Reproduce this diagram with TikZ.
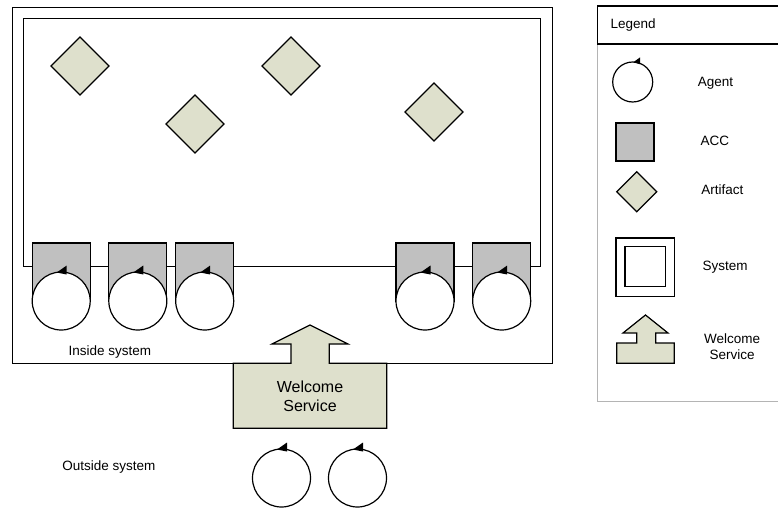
\documentclass[tikz,border=0pt]{standalone}
\usepackage{fontspec}
\setmainfont{Liberation Sans}
\usepackage{xcolor}
\usetikzlibrary{calc, positioning, shapes.geometric}
\definecolor{ArtifactFill}{HTML}{DEE0CC}
\definecolor{AccGray}{HTML}{C0C0C0}
\definecolor{LegendGray}{HTML}{B4B4B4}

\begin{document}
\begin{tikzpicture}[x=1pt, y=-1pt, line width=1.2pt,
        artifact/.style={draw, diamond, fill=ArtifactFill, inner sep=0pt,
                    outer sep=0pt, minimum width=58, minimum height=58},
        acc/.style={draw, rectangle, fill=AccGray, inner sep=0pt,
                    outer sep=0pt, minimum width=58, minimum height=58},
        agent/.style={draw, circle, fill=white, inner sep=0pt,
                    outer sep=0pt, minimum size=58},
        lbl/.style={font=\fontsize{13.5}{16}\selectfont, anchor=west, inner sep=0pt}]
        \useasboundingbox (0,0) rectangle (778,508);

        % System: outer and inner frame
        \node[draw, rectangle, inner sep=0pt, minimum width=540, minimum height=356,
              anchor=north west] (sysout) at (11.7,6.7) {};
        \node[draw, rectangle, inner sep=0pt, minimum width=517.3, minimum height=247.7,
              anchor=north west] (sysin) at (22.7,18.3) {};

        % Artifacts
        \node[artifact] (art1) at (80,66)   {};
        \node[artifact] (art2) at (195,124) {};
        \node[artifact] (art3) at (291,66)  {};
        \node[artifact] (art4) at (434,112) {};

        % ACCs with their agents
        \node[acc] (acc1) at (61.2,272)  {};
        \node[acc] (acc2) at (137.8,272) {};
        \node[acc] (acc3) at (204.7,272) {};
        \node[acc] (acc4) at (425,272)   {};
        \node[acc] (acc5) at (501.7,272) {};
        \node[agent] (ag1) at (61.2,301)  {};
        \node[agent] (ag2) at (137.8,301) {};
        \node[agent] (ag3) at (204.7,301) {};
        \node[agent] (ag4) at (425,301)   {};
        \node[agent] (ag5) at (501.7,301) {};

        % Agents waiting outside
        \node[agent] (out1) at (281.5,478) {};
        \node[agent] (out2) at (357.5,478) {};

        % Welcome service
        \draw[fill=ArtifactFill] (233.3,428.3) -- (233.3,363.3) -- (291,363.3) -- (291,344)
              -- (272,344) -- (310,325) -- (348,344) -- (329.3,344) -- (329.3,363.3)
              -- (386.7,363.3) -- (386.7,428.3) -- cycle;
        \node[font=\fontsize{16}{19}\selectfont, align=center] (welcome) at (310,396)
              {Welcome\\Service};

        \node[lbl] (inside)  at (68,352)    {Inside system};
        \node[lbl] (outside) at (61.7,466.7) {Outside system};

        % Legend
        \draw[LegendGray, line width=0.9pt] (597.3,44) -- (597.3,401.7) -- (780,401.7);
        \draw (780,6) -- (597.3,6) -- (597.3,44) -- (780,44);
        \node[lbl] (legend) at (610,25) {Legend};

        \node[agent, minimum size=40] (lagent) at (632.7,82) {};
        \node[acc, minimum width=38, minimum height=38] (lacc) at (635,142) {};
        \node[artifact, minimum width=40, minimum height=40] (lart) at (636.7,191.7) {};
        \node[draw, rectangle, inner sep=0pt, minimum width=58.3, minimum height=58.7]
              (lsysout) at (645.2,267.3) {};
        \node[draw, rectangle, inner sep=0pt, minimum width=40.7, minimum height=40]
              (lsysin) at (645.3,266.7) {};
        \draw[fill=ArtifactFill] (616.7,363.3) -- (616.7,343) -- (636.7,343) -- (636.7,333)
              -- (623,333) -- (645.5,315) -- (668,333) -- (655.7,333) -- (655.7,343)
              -- (674.3,343) -- (674.3,363.3) -- cycle;

        \node[lbl] (tagent)   at (697.3,83.3) {Agent};
        \node[lbl] (tacc)     at (700,140.7)  {ACC};
        \node[lbl] (tart)     at (700.7,190)  {Artifact};
        \node[lbl] (tsys)     at (702,267)    {System};
        \node[lbl, anchor=center, align=center] (twelcome) at (732,347) {Welcome\\Service};

        % Arrow tips on the agents
        \foreach \a in {ag1,ag2,ag3,ag4,ag5,out1,out2}
          \fill ($(\a.north)+(-4.5,0.5)$) -- ++(10,-7) -- ++(0,9) -- cycle;
        \fill ($(lagent.north)+(0.5,0.3)$) -- ++(7,-5) -- ++(0,7) -- cycle;
      \end{tikzpicture}
\end{document}
